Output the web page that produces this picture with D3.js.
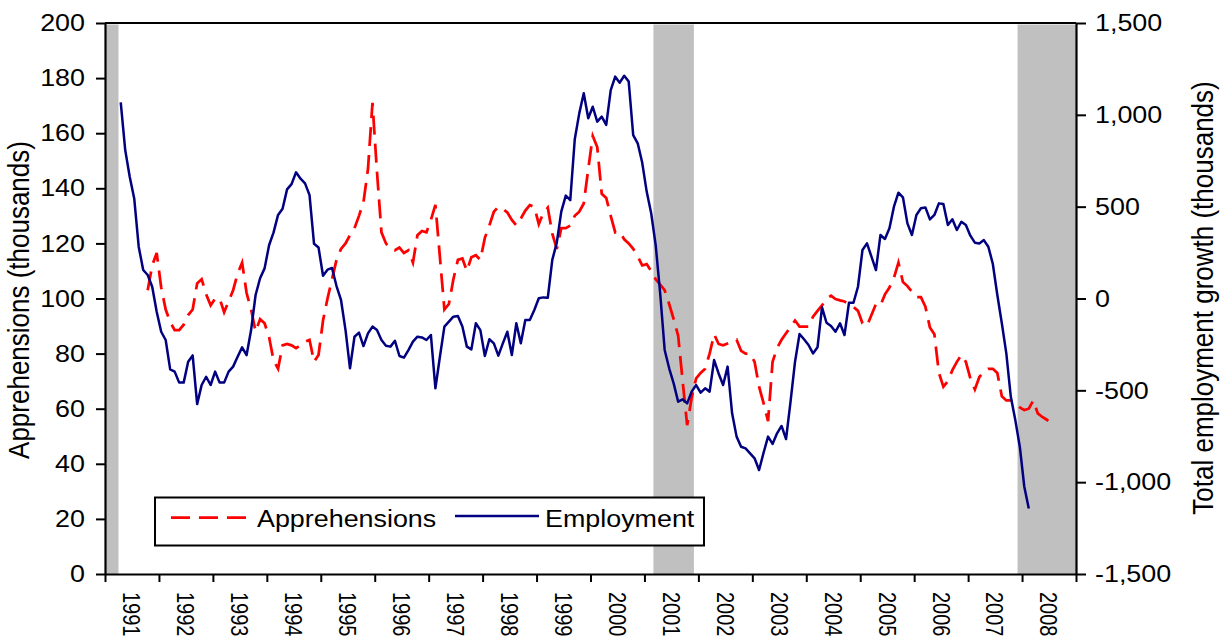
<!DOCTYPE html>
<html><head><meta charset="utf-8">
<script src="https://cdn.jsdelivr.net/npm/d3@7"></script>
<style>
body{margin:0;background:#fff}
svg{display:block}
text{font-family:"Liberation Sans",Arial,sans-serif;fill:#000}
</style>
</head><body>
<svg id="chart" width="1225" height="641"></svg>
<script>
// ---------- data ----------
const yearLabels = ["1991","1992","1993","1994","1995","1996","1997","1998","1999","2000","2001","2002","2003","2004","2005","2006","2007","2008"];
const leftTicks = [0,20,40,60,80,100,120,140,160,180,200];
const rightTicks = [-1500,-1000,-500,0,500,1000,1500];
const recessions = [["1991-01","1991-03"],["2001-03","2001-11"],["2007-12","2008-12"]];
const seriesNames = ["Apprehensions","Employment"];

const employmentStart = "1991-04";
const employment = [
1068,808,663,545,282,155,128,64,-72,
-181,-226,-386,-398,-458,-458,-344,-310,-575,-471,-426,-471,
-398,-458,-458,-398,-371,-317,-266,-308,-172,19,110,164,
290,360,455,489,594,623,687,652,627,563,298,278,
124,157,166,68,-8,-171,-380,-208,-186,-259,-190,-153,
-172,-226,-257,-262,-230,-313,-322,-281,-235,-208,-212,-226,
-199,-489,-317,-153,-126,-99,-95,-153,-262,-277,-135,-172,
-313,-222,-244,-311,-244,-181,-308,-135,-244,-117,-117,-63,
1,6,4,210,304,473,560,536,867,1008,1117,981,
1044,963,990,945,1135,1208,1175,1213,1181,890,845,740,
582,464,291,28,-280,-380,-462,-562,-549,-571,-507,-471,
-513,-489,-507,-335,-408,-471,-371,-625,-752,-807,-816,-843,
-870,-934,-840,-752,-792,-734,-694,-765,-562,-344,-193,-222,
-253,-299,-266,-48,-132,-150,-181,-135,-199,-23,-23,64,
264,300,228,155,346,324,382,500,576,551,409,346,
455,491,496,431,455,518,514,400,431,373,418,400,
342,304,300,318,282,188,19,-135,-299,-535,-662,-807,
-1025,-1143
];

const apprehensionsStart = "1991-10";
const apprehensions = [
103,112,116.5,
104,96,91.5,88.5,88.5,90.5,94,96,105.5,107,101.5,97.5,
100,100,95,99,103,109,113,102,96,88,92.5,91,
86,77.5,74.5,83,83.5,83,82,83,84.3,85,77,79.5,
92,100,107,114,118,120,123,125.5,130,135,147,171,
146,124,120,118,117.5,118.5,116.5,117.5,113,123,124.5,124,
128.5,134,115,96,98,107,114,114.5,110,115,115.7,114,
122,126.5,131.5,133.3,132.5,131.2,128.5,126.5,129,131.9,133.9,133.3,
127,131,133,123.5,118,125.5,125.5,126.5,130,131.5,134.5,147,
159,155,138,136.5,130,124,124.3,121.5,120,118,115.3,112,
112.5,110,107,105,103,98,92.5,86.5,70,54,64,71,
73,74.5,80,87,83.5,83,83.7,84.3,85,81,80,80,
77,68,62,55.5,77,82,85,87.4,89.5,92,89.8,89.8,
89.8,93.4,95.5,97.5,100,101,99.8,99.3,98.9,98,97,95.5,
91,90,94,98,97.5,101.5,104,107.5,113,106,104.5,102.5,
100.5,100.5,97,89.5,87,73,68,70,74,77,79.5,77,
71,67,71.5,73.5,74.5,74.5,73,64.5,63,63,62,60.5,
59.5,60,63,58.3,57,56,54.5
];

// ---------- layout ----------
const monthIndex = s => { const [y,m] = s.split("-").map(Number); return (y-1991)*12 + (m-1); };
const PL = 105, PR = 1076, PT = 23, PB = 574;
const svg = d3.select("#chart");
const x = d3.scaleLinear().domain([0,216]).range([PL,PR]);
const yL = d3.scaleLinear().domain([0,200]).range([PB,PT]);
const yR = d3.scaleLinear().domain([-1500,1500]).range([PB,PT]);
const SX = 1.12;

// recession shading
svg.append("g").selectAll("rect").data(recessions).join("rect")
  .attr("x", d => x(monthIndex(d[0])))
  .attr("width", d => x(monthIndex(d[1]) + 1) - x(monthIndex(d[0])))
  .attr("y", PT + 1.5)
  .attr("height", PB - PT - 1.5)
  .attr("fill", "#c0c0c0");

// lines
const appStart = monthIndex(apprehensionsStart);
const empStart = monthIndex(employmentStart);
svg.append("path").datum(apprehensions)
  .attr("fill","none").attr("stroke","#ff0000").attr("stroke-width",2.75)
  .attr("stroke-dasharray","19,9")
  .attr("d", d3.line().x((d,k) => x(appStart + k + 0.5)).y(d => yL(d)));
svg.append("path").datum(employment)
  .attr("fill","none").attr("stroke","#000080").attr("stroke-width",2.5)
  .attr("stroke-linejoin","round")
  .attr("d", d3.line().x((d,k) => x(empStart + k + 0.5)).y(d => yR(d)));

// axes
function styleAxis(g){
  g.selectAll("path.domain").attr("stroke","#000").attr("stroke-width",2.2);
  g.selectAll(".tick line").attr("stroke","#000").attr("stroke-width",2);
  g.selectAll(".tick text").style("font-size","24px").each(function(){
    const t = d3.select(this); const xx = +t.attr("x") || 0;
    t.attr("x",0).attr("transform",`translate(${xx},0) scale(${SX},1)`);
  });
}
svg.append("g").attr("transform",`translate(${PL},0)`)
  .call(d3.axisLeft(yL).tickValues(leftTicks).tickSize(9).tickSizeOuter(0).tickPadding(11))
  .call(styleAxis);
const fmtR = d => d3.format(",")(d).replace("\u2212","-");
svg.append("g").attr("transform",`translate(${PR},0)`)
  .call(d3.axisRight(yR).tickValues(rightTicks).tickFormat(fmtR).tickSize(10).tickSizeOuter(0).tickPadding(9))
  .call(styleAxis);
svg.append("g").attr("transform",`translate(0,${PB})`)
  .call(d3.axisBottom(x).tickValues(d3.range(0,217,12)).tickFormat("").tickSize(8).tickSizeOuter(0))
  .call(styleAxis);
svg.append("line").attr("x1",PL).attr("x2",PR).attr("y1",PT).attr("y2",PT)
  .attr("stroke","#000").attr("stroke-width",2.2);

// year labels
svg.append("g").selectAll("text").data(yearLabels).join("text")
  .attr("transform",(d,k) => `translate(${x(k*12+6) - 8.6},592) scale(1.22,1) rotate(90)`)
  .style("font-size","20px")
  .text(d => d);

// axis titles
svg.append("text")
  .attr("transform",`translate(29,300) scale(${SX},1) rotate(-90)`)
  .attr("text-anchor","middle").style("font-size","26px")
  .text("Apprehensions (thousands)");
svg.append("text")
  .attr("transform",`translate(1213,298) scale(${SX},1) rotate(-90)`)
  .attr("text-anchor","middle").style("font-size","26px")
  .text("Total employment growth (thousands)");

// legend
const lg = svg.append("g");
lg.append("rect").attr("x",155).attr("y",497.5).attr("width",549).attr("height",48)
  .attr("fill","#fff").attr("stroke","#000").attr("stroke-width",2);
lg.append("line").attr("x1",171).attr("x2",246).attr("y1",517.5).attr("y2",517.5)
  .attr("stroke","#ff0000").attr("stroke-width",2.75).attr("stroke-dasharray","19,9");
lg.append("text").attr("transform",`translate(257,527) scale(${SX},1)`).style("font-size","24px").text(seriesNames[0]);
lg.append("line").attr("x1",455).attr("x2",539).attr("y1",516).attr("y2",516)
  .attr("stroke","#000080").attr("stroke-width",2.5);
lg.append("text").attr("transform",`translate(545,527) scale(${SX},1)`).style("font-size","24px").text(seriesNames[1]);
</script>
</body></html>
